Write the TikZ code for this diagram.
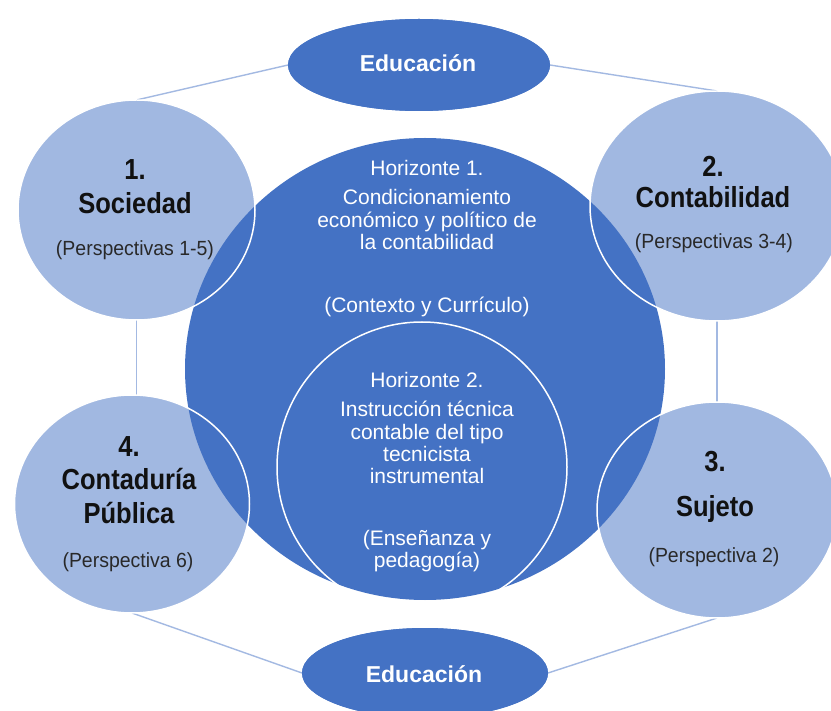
\documentclass[tikz,border=0pt]{standalone}
\usepackage{fontspec}
\setmainfont{Liberation Sans}
\newfontfamily\narrowfont[FakeStretch=0.88]{Liberation Sans}
\newfontfamily\perspfam[FakeStretch=0.95]{Liberation Sans}
\usetikzlibrary{shapes.geometric}
\definecolor{mainblue}{HTML}{4472C4}
\definecolor{linkblue}{HTML}{A3B9E2}
\definecolor{inktext}{HTML}{111111}
\begin{document}
\begin{tikzpicture}[x=1pt,y=-1pt,
  bub/.style={ellipse, draw=white, line width=1.5pt, fill=mainblue, fill opacity=0.5, draw opacity=1, inner sep=0pt, outer sep=0pt},
  edu/.style={ellipse, fill=mainblue, inner sep=0pt, outer sep=0pt},
  link/.style={draw=linkblue, line width=1.4pt},
  ttl/.style={anchor=base, text=inktext, font=\narrowfont\bfseries\fontsize{29}{34}\selectfont, inner sep=0pt},
  per/.style={anchor=base, text=inktext!90, font=\perspfam\fontsize{20.5}{24}\selectfont, inner sep=0pt},
  wtx/.style={anchor=base, text=white, font=\fontsize{21}{25}\selectfont, inner sep=0pt},
  edt/.style={anchor=base, text=white, font=\bfseries\fontsize{23}{27}\selectfont, inner sep=0pt}
]
\clip (0,0) rectangle (831,711);
\fill[white] (0,0) rectangle (831,711);

% shapes (empty nodes, named)
\node[edu, minimum width=262pt, minimum height=92pt] (eduT) at (419,65) {};
\node[edu, minimum width=246pt, minimum height=90pt] (eduB) at (425,673) {};
\node[bub, draw=none, fill=none, minimum width=237pt, minimum height=220pt] (c1) at (136.5,210) {};
\node[bub, draw=none, fill=none, minimum width=254pt, minimum height=230pt] (c2) at (717,206) {};
\node[bub, draw=none, fill=none, minimum width=240pt, minimum height=216pt] (c3) at (717,510) {};
\node[bub, draw=none, fill=none, minimum width=235pt, minimum height=218pt] (c4) at (132,504) {};

% connectors
\draw[link] (eduT.west) -- (c1.north);
\draw[link] (eduT.east) -- (c2.north);
\draw[link] (c1.south) -- (c1.south |- c4.north);
\draw[link] (c2.south) -- (c3.north);
\draw[link] (c4.south) -- (eduB.west);
\draw[link] (c3.south) -- (eduB.east);

% big and inner circles
\node[ellipse, fill=mainblue, minimum width=480pt, minimum height=462pt, inner sep=0pt] (big) at (425,369) {};
\node[circle, draw=white, line width=1.5pt, minimum size=290pt, inner sep=0pt] (inner) at (422,467) {};

% small circles (translucent)
\node[bub, minimum width=237pt, minimum height=220pt] at (c1) {};
\node[bub, minimum width=254pt, minimum height=230pt] at (c2) {};
\node[bub, minimum width=240pt, minimum height=216pt] at (c3) {};
\node[bub, minimum width=235pt, minimum height=218pt] at (c4) {};

% redraw education ellipses on top
\node[edu, minimum width=262pt, minimum height=92pt] at (eduT) {};
\node[edu, minimum width=246pt, minimum height=90pt] at (eduB) {};

% texts
\node[edt] (tEduT) at (418,72) {Educación};
\node[edt] (tEduB) at (424,682) {Educación};

\node[wtx] (h1a) at (427,176) {Horizonte 1.};
\node[wtx] (h1b) at (427,205) {Condicionamiento};
\node[wtx] (h1c) at (427,228) {económico y político de};
\node[wtx] (h1d) at (427,250) {la contabilidad};
\node[wtx] (h1e) at (427,313) {(Contexto y Currículo)};

\node[wtx] (h2a) at (427,388) {Horizonte 2.};
\node[wtx] (h2b) at (427,417) {Instrucción técnica};
\node[wtx] (h2c) at (427,440) {contable del tipo};
\node[wtx] (h2d) at (427,462) {tecnicista};
\node[wtx] (h2e) at (427,484) {instrumental};
\node[wtx] (h2f) at (427,545) {(Enseñanza y};
\node[wtx] (h2g) at (427,567) {pedagogía)};

\node[ttl] (t1a) at (135,180) {1.};
\node[ttl] (t1b) at (135,214) {Sociedad};
\node[per] (t1c) at (135,256) {(Perspectivas 1-5)};

\node[ttl] (t2a) at (713,177) {2.};
\node[ttl] (t2b) at (713,208) {Contabilidad};
\node[per] (t2c) at (714,249) {(Perspectivas 3-4)};

\node[ttl] (t3a) at (715,472) {3.};
\node[ttl] (t3b) at (715,517) {Sujeto};
\node[per] (t3c) at (714,562) {(Perspectiva 2)};

\node[ttl] (t4a) at (129,457) {4.};
\node[ttl] (t4b) at (129,490) {Contaduría};
\node[ttl] (t4c) at (129,523) {Pública};
\node[per] (t4d) at (128,567) {(Perspectiva 6)};
\end{tikzpicture}
\end{document}
